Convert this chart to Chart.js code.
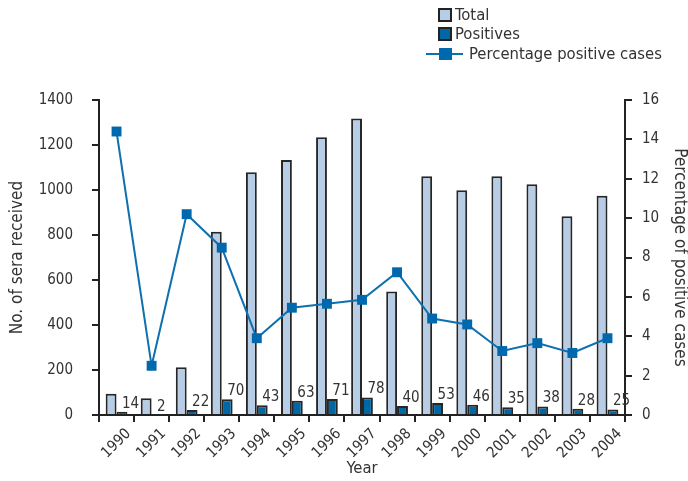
<!DOCTYPE html>
<html><head><meta charset="utf-8">
<script src="https://cdn.jsdelivr.net/npm/chart.js@4/dist/chart.umd.min.js"></script>
<style>
body{margin:0;background:#fff;}
#wrap{position:relative;width:688px;height:481px;}
#legend{position:absolute;left:0;top:0;font-family:"DejaVu Sans Condensed","DejaVu Sans",sans-serif;font-size:16.5px;color:#333;}
.row{position:absolute;white-space:nowrap;height:18px;line-height:18px;}
.sw{position:absolute;width:10px;height:10px;border:2px solid #222;}
.ln{position:absolute;height:2px;background:#0f70b0;}
.mk{position:absolute;width:13px;height:12px;background:#0068ac;}
.tx{position:absolute;}
</style></head>
<body>
<div id="wrap">
<canvas id="c" width="688" height="481"></canvas>
<div id="legend">
  <div class="row" style="left:438px;top:6px;"><span class="sw" style="left:0;top:2px;background:#b7cde6;"></span><span class="tx" style="left:17px;top:0;">Total</span></div>
  <div class="row" style="left:438px;top:25px;"><span class="sw" style="left:0;top:2px;background:#0067a5;"></span><span class="tx" style="left:17px;top:0;">Positives</span></div>
  <div class="row" style="left:426px;top:45px;"><span class="ln" style="left:0;top:8px;width:37px;"></span><span class="mk" style="left:13px;top:3px;"></span><span class="tx" style="left:43px;top:0;">Percentage positive cases</span></div>
</div>
</div>
<script>
const years = ['1990','1991','1992','1993','1994','1995','1996','1997','1998','1999','2000','2001','2002','2003','2004'];
const totalSera = [95, 75, 212, 815, 1079, 1133, 1235, 1318, 549, 1061, 999, 1061, 1026, 883, 974];
const positives = [14, 2, 22, 70, 43, 63, 71, 78, 40, 53, 46, 35, 38, 28, 25];
const percentPositive = [14.4, 2.5, 10.2, 8.5, 3.9, 5.45, 5.65, 5.85, 7.25, 4.9, 4.6, 3.25, 3.65, 3.15, 3.9];
const leftTicks = [0, 200, 400, 600, 800, 1000, 1200, 1400];
const rightTicks = [0, 2, 4, 6, 8, 10, 12, 14, 16];

const FONT = '"DejaVu Sans Condensed", "DejaVu Sans", sans-serif';
const AX = '#222';
const TXT = '#333';

const labelPlugin = {
  id: 'posLabels',
  afterDatasetsDraw(chart) {
    const ctx = chart.ctx;
    const meta = chart.getDatasetMeta(2);
    ctx.save();
    ctx.font = '15px "Liberation Sans Narrow", ' + FONT;
    ctx.fillStyle = TXT;
    ctx.textAlign = 'left';
    ctx.textBaseline = 'alphabetic';
    meta.data.forEach((el, i) => {
      ctx.fillText(String(positives[i]), el.x, el.y - 4);
    });
    ctx.restore();
  }
};

new Chart(document.getElementById('c'), {
  data: {
    labels: years,
    datasets: [
      {
        type: 'line', label: 'Percentage positive cases', data: percentPositive, yAxisID: 'y2',
        borderColor: '#0f70b0', backgroundColor: '#0068ac', borderWidth: 2,
        pointStyle: 'rect', pointRadius: 7, pointBorderWidth: 0, pointBackgroundColor: '#0068ac',
        order: 0
      },
      {
        type: 'bar', label: 'Total', data: totalSera, yAxisID: 'y',
        backgroundColor: '#b7cde6', borderColor: '#262626', borderWidth: 2,
        categoryPercentage: 0.62, barPercentage: 1, order: 1
      },
      {
        type: 'bar', label: 'Positives', data: positives, yAxisID: 'y',
        backgroundColor: '#0067a5', borderColor: '#262626', borderWidth: 2,
        categoryPercentage: 0.62, barPercentage: 1, order: 1
      }
    ]
  },
  options: {
    responsive: false,
    animation: false,
    layout: { padding: { top: 100, left: 0, right: 0, bottom: 0 } },
    plugins: { legend: { display: false }, tooltip: { enabled: false } },
    scales: {
      x: {
        offset: true,
        grid: { display: true, drawOnChartArea: false, drawTicks: true, tickLength: 7, color: AX, lineWidth: 2 },
        border: { display: true, color: AX, width: 2 },
        ticks: { color: TXT, font: { family: FONT, size: 15 }, maxRotation: 45, minRotation: 45, padding: 3, labelOffset: 12 },
        title: { display: true, text: 'Year', color: TXT, font: { family: FONT, size: 16.5 }, padding: { top: 0, bottom: 2 } },
        afterFit(s) { s.height = 66; }
      },
      y: {
        position: 'left', min: 0, max: 1400,
        afterBuildTicks(s) { s.ticks = leftTicks.map(v => ({ value: v })); },
        grid: { display: true, drawOnChartArea: false, drawTicks: true, tickLength: 7, color: AX, lineWidth: 2 },
        border: { display: true, color: AX, width: 2 },
        ticks: { color: TXT, font: { family: FONT, size: 15 }, padding: 19, callback: v => String(v) },
        title: { display: true, text: 'No. of sera received', color: TXT, font: { family: FONT, size: 17, lineHeight: 1 }, padding: { top: 9.5, bottom: 0 } },
        afterFit(s) { s.width = 99; }
      },
      y2: {
        position: 'right', min: 0, max: 16,
        afterBuildTicks(s) { s.ticks = rightTicks.map(v => ({ value: v })); },
        grid: { display: true, drawOnChartArea: false, drawTicks: true, tickLength: 7, color: AX, lineWidth: 2 },
        border: { display: true, color: AX, width: 2 },
        ticks: { color: TXT, font: { family: FONT, size: 15 }, padding: 10, callback: v => String(v) },
        title: { display: true, text: 'Percentage of positive cases', color: TXT, font: { family: FONT, size: 17, lineHeight: 1 }, padding: { top: 0, bottom: 0 } },
        afterFit(s) { s.width = 63; }
      }
    }
  },
  plugins: [labelPlugin]
});
</script>
</body></html>
